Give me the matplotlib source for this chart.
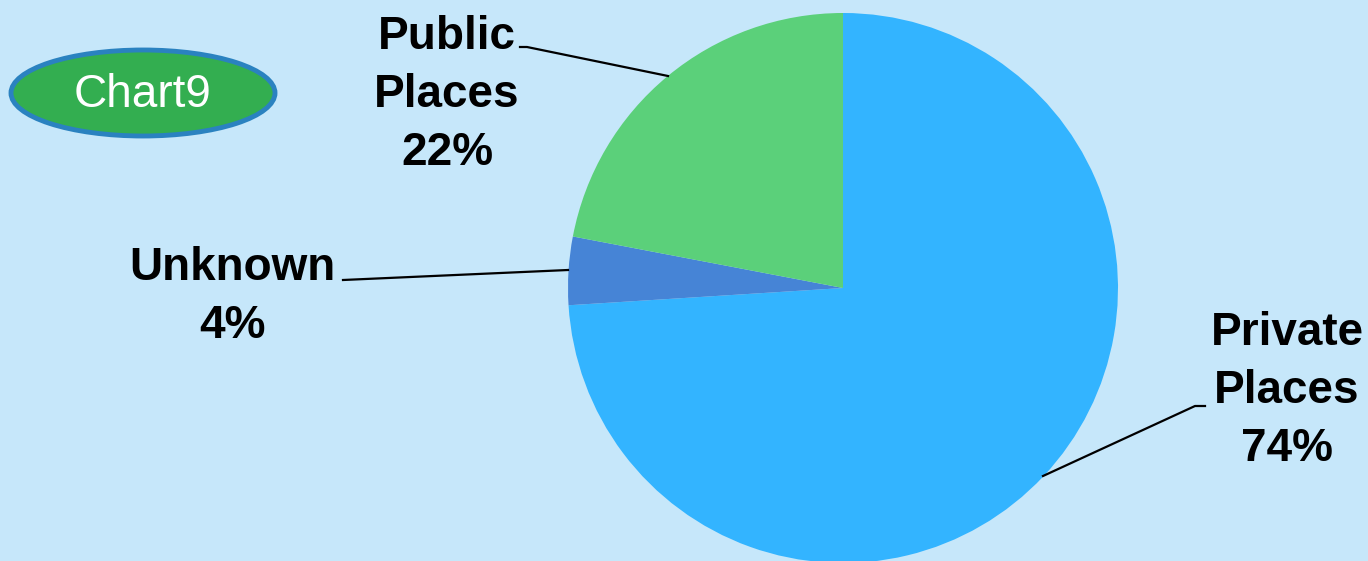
import matplotlib
matplotlib.use('Agg')
import matplotlib.pyplot as plt
from matplotlib.patches import Ellipse

# data
labels = ['Private\nPlaces', 'Unknown', 'Public\nPlaces']
shares = [74, 4, 22]
colors = ['#33B4FF', '#4684D6', '#5BD07A']
badge_text = 'Chart9'

bg = '#C6E7FA'
W, H = 1368, 561

fig = plt.figure(figsize=(W / 100, H / 100), dpi=100)
fig.patch.set_facecolor(bg)
ax = fig.add_axes([0, 0, 1, 1])
ax.set_facecolor(bg)

# pie in pixel coordinates (y axis inverted -> counterclock flips)
wedges, _ = ax.pie(shares, colors=colors, startangle=-90, counterclock=True,
                   center=(843, 288), radius=275, frame=True)
ax.set_xlim(0, W)
ax.set_ylim(H, 0)
ax.set_aspect('equal')
ax.axis('off')

# labels with leader lines: (text x, text y, line points)
label_pos = [
    (1287, 391, [(1205, 406), (1195, 406), (1043, 476)]),
    (232, 297, [(343, 280), (568, 270)]),
    (447, 95, [(520, 47), (527, 47), (668, 76)]),
]
for lab, pct, (tx, ty, pts) in zip(labels, shares, label_pos):
    ax.text(tx, ty, f'{lab}\n{pct}%', ha='center', va='center',
            fontsize=33, fontweight='bold', color='black',
            family='Liberation Sans', linespacing=1.42)
    xs = [p[0] for p in pts]
    ys = [p[1] for p in pts]
    ax.plot(xs, ys, color='black', lw=1.6, zorder=5)

# badge
badge = Ellipse((143, 93), 264, 86, facecolor='#33AE50', edgecolor='#2A82C0', lw=3.5, zorder=6)
ax.add_patch(badge)
ax.text(143, 95, badge_text, ha='center', va='center', fontsize=33,
        color='white', family='Liberation Sans', zorder=7)

fig.savefig('out.png', dpi=100, facecolor=bg)
